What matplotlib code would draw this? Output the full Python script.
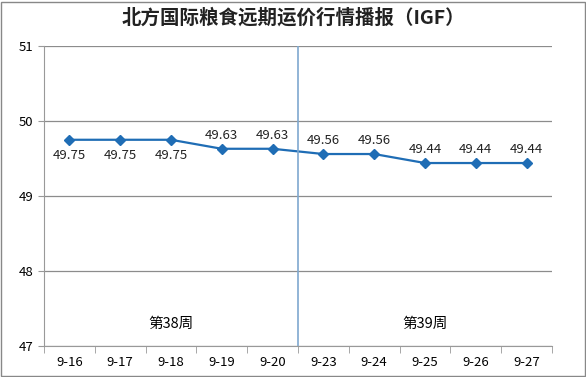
import matplotlib
matplotlib.use("Agg")
import matplotlib.pyplot as plt
import numpy as np

plt.rcParams['font.family'] = ['Noto Sans CJK SC', 'DejaVu Sans']

# 数据
dates = ["9-16", "9-17", "9-18", "9-19", "9-20", "9-23", "9-24", "9-25", "9-26", "9-27"]
values = [49.75, 49.75, 49.75, 49.63, 49.63, 49.56, 49.56, 49.44, 49.44, 49.44]
label_below = [True, True, True, False, False, False, False, False, False, False]
weeks = ["第38周", "第39周"]

fig = plt.figure(figsize=(5.86, 3.77), dpi=100)
ax = fig.add_axes([0.075, 0.082, 0.867, 0.796])

x = np.arange(len(dates))
ax.plot(x, values, color="#1f6db5", marker="D", markersize=5.5, linewidth=1.6)

for xi, v, below in zip(x, values, label_below):
    if below:
        ax.annotate(f"{v:.2f}", (xi, v), xytext=(0, -7), textcoords="offset points",
                    ha="center", va="top", fontsize=9.5, color="#222222")
    else:
        ax.annotate(f"{v:.2f}", (xi, v), xytext=(0, 5), textcoords="offset points",
                    ha="center", va="bottom", fontsize=9.5, color="#222222")

ax.set_xlim(-0.5, len(dates) - 0.5)
ax.set_ylim(47, 51)
ax.set_yticks([47, 48, 49, 50, 51])
ax.set_xticks(x)
ax.set_xticklabels(dates)
ax.set_xticks(np.arange(-0.5, len(dates)), minor=True)
ax.tick_params(axis="x", which="major", length=0, labelsize=9.5, pad=7)
ax.tick_params(axis="x", which="minor", length=5, color="#999999")
ax.tick_params(axis="y", length=4, color="#999999", labelsize=9.5)

ax.grid(axis="y", color="#8c8c8c", linewidth=0.9)
ax.set_axisbelow(True)
for s in ["top", "right"]:
    ax.spines[s].set_visible(False)
ax.spines["left"].set_color("#999999")
ax.spines["bottom"].set_color("#999999")

# 周分隔线
ax.axvline(4.5, color="#7fa8cf", linewidth=1.2)
ax.text(2.0, 47.3, weeks[0], ha="center", va="center", fontsize=10.5)
ax.text(7.0, 47.3, weeks[1], ha="center", va="center", fontsize=10.5)

fig.text(0.5, 0.952, "北方国际粮食远期运价行情播报（IGF）", ha="center", va="center",
         fontsize=14, fontweight="bold", color="#222222")

# 外框
fig.patches.append(plt.Rectangle((0.002, 0.002), 0.996, 0.994, transform=fig.transFigure,
                                 fill=False, edgecolor="#888888", linewidth=1))

fig.savefig("out.png", dpi=100)
